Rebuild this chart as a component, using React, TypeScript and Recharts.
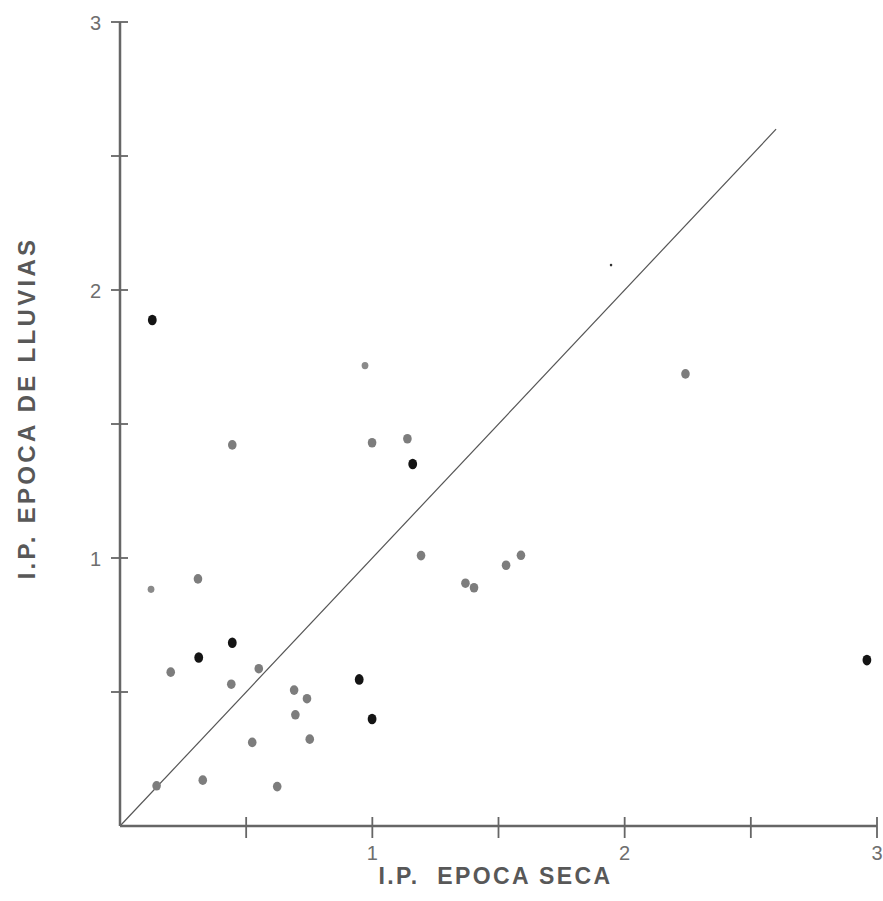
import React from 'react';
import { ScatterChart, Scatter, XAxis, YAxis, ReferenceLine, Label } from 'recharts';

const xTicks = [0.5, 1, 1.5, 2, 2.5, 3];
const yTicks = [0.5, 1, 1.5, 2, 2.5, 3];
const labelledTicks = [1, 2, 3];
const xTitle = 'I.P.  EPOCA SECA';
const yTitle = 'I.P. EPOCA DE LLUVIAS';

// [x, y] pairs
const grayPoints: [number, number][] = [
  [0.445, 1.422], [0.999, 1.43], [1.139, 1.445], [1.193, 1.009],
  [1.369, 0.906], [1.403, 0.889], [1.53, 0.973], [1.589, 1.01],
  [0.309, 0.922], [0.201, 0.574], [0.55, 0.587], [0.441, 0.529],
  [0.69, 0.507], [0.741, 0.475], [0.695, 0.415], [0.524, 0.312],
  [0.752, 0.324], [0.145, 0.15], [0.328, 0.171], [0.623, 0.147],
  [2.241, 1.687],
];
const smallGrayPoints: [number, number][] = [
  [0.123, 0.883], [0.971, 1.718],
];
const blackPoints: [number, number][] = [
  [0.128, 1.888], [1.16, 1.351], [0.445, 0.684], [0.312, 0.629],
  [0.948, 0.547], [0.999, 0.399], [2.96, 0.619],
];
const speckPoints: [number, number][] = [[1.946, 2.093]];
const diagonalStart = { x: 0, y: 0 };
const diagonalEnd = { x: 2.6, y: 2.6 };

const toObjs = (arr: [number, number][]) => arr.map(([x, y]) => ({ x, y }));

const FONT = '"Liberation Sans", Arial, Helvetica, sans-serif';
const AXIS = '#666666';

const YTick = (props: any) => {
  const { x, y, payload } = props;
  const v = payload.value;
  return (
    <g>
      <line x1={x - 9} x2={x + 8} y1={y} y2={y} stroke={AXIS} strokeWidth={1.8} />
      {labelledTicks.includes(v) && (
        <text x={x - 19} y={y + 1} textAnchor="end" dominantBaseline="central"
          fontSize={20} fontFamily={FONT} fill="#6e6e6e">{String(v)}</text>
      )}
    </g>
  );
};

const XTick = (props: any) => {
  const { x, y, payload } = props;
  const v = payload.value;
  return (
    <g>
      <line x1={x} x2={x} y1={y - 9} y2={y + 12} stroke={AXIS} strokeWidth={1.8} />
      {labelledTicks.includes(v) && (
        <text x={x} y={y + 34} textAnchor="middle"
          fontSize={20} fontFamily={FONT} fill="#6e6e6e">{String(v)}</text>
      )}
    </g>
  );
};

const makeDot = (rx: number, ry: number, fill: string) => (props: any) => {
  const { cx, cy } = props;
  if (cx == null || cy == null) return <g />;
  return <ellipse cx={cx} cy={cy} rx={rx} ry={ry} fill={fill} />;
};

export default function App() {
  return (
    <div style={{ position: 'absolute', left: 0, top: 0, width: 883, height: 901 }}>
      <ScatterChart width={883} height={901} margin={{ top: 22, right: 6, bottom: 0, left: 0 }}
        style={{ overflow: 'visible' }}>
        <XAxis type="number" dataKey="x" domain={[0, 3]} ticks={xTicks} height={75}
          axisLine={{ stroke: AXIS, strokeWidth: 2.5 }} tickLine={false} tickSize={0} tickMargin={0}
          tick={<XTick />} interval={0} allowDataOverflow>
          <Label content={(p: any) => {
            const vb = p.viewBox;
            return (
              <text x={vb.x + vb.width / 2 - 3} y={vb.y + 58} textAnchor="middle"
                fontSize={23} fontWeight="bold" fontFamily={FONT} fill="#585858"
                letterSpacing={2.4} style={{ whiteSpace: 'pre' }}>{xTitle}</text>
            );
          }} />
        </XAxis>
        <YAxis type="number" dataKey="y" domain={[0, 3]} ticks={yTicks} width={120}
          axisLine={{ stroke: AXIS, strokeWidth: 2.5 }} tickLine={false} tickSize={0} tickMargin={0}
          tick={<YTick />} interval={0} allowDataOverflow>
          <Label content={(p: any) => {
            const vb = p.viewBox;
            const cx = vb.x + 26;
            const cy = 408;
            return (
              <text x={cx} y={cy} textAnchor="middle" dominantBaseline="central"
                transform={`rotate(-90, ${cx}, ${cy})`}
                fontSize={24} fontWeight="bold" fontFamily={FONT} fill="#585858"
                letterSpacing={3.3}>{yTitle}</text>
            );
          }} />
        </YAxis>
        <ReferenceLine segment={[diagonalStart, diagonalEnd]} stroke="#555" strokeWidth={1.2} ifOverflow="visible" />
        <Scatter data={toObjs(grayPoints)} shape={makeDot(4.3, 4.8, '#7d7d7d')} isAnimationActive={false} />
        <Scatter data={toObjs(smallGrayPoints)} shape={makeDot(3.4, 3.6, '#8a8a8a')} isAnimationActive={false} />
        <Scatter data={toObjs(blackPoints)} shape={makeDot(4.4, 5.3, '#141414')} isAnimationActive={false} />
        <Scatter data={toObjs(speckPoints)} shape={makeDot(1.3, 1.3, '#333')} isAnimationActive={false} />
      </ScatterChart>
    </div>
  );
}
